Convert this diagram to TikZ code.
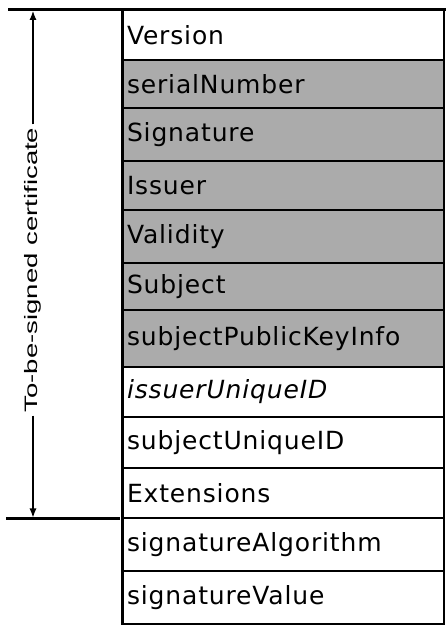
\documentclass[tikz,border=0pt]{standalone}
\usepackage{fontspec}
\newfontfamily\rowfont[LetterSpace=3.4]{DejaVu Sans}
\newfontfamily\lblfont{Liberation Sans}
\usetikzlibrary{arrows.meta}
\tikzset{
  rowbox/.style={draw=black, line width=1.6pt, outer sep=0pt, anchor=north west, minimum width=322pt,
     inner xsep=5pt, inner ysep=0pt, text width=312pt, align=left,
     font=\rowfont\fontsize{25}{25}\selectfont},
  shaded/.style={rowbox, fill=black!33},
  plain/.style={rowbox, fill=white},
  thick line/.style={line width=3pt},
  dimarrow/.style={line width=1.2pt, -{Latex[length=9pt,width=7pt]}},
}
\begin{document}
\begin{tikzpicture}[x=1pt,y=1pt]
\useasboundingbox (0,0) rectangle (446,627);
\node[plain,  minimum height=50.5pt] (r1)  at (122,617.5) {Version};
\node[shaded, minimum height=48pt]   (r2)  at (r1.south west) {serialNumber};
\node[shaded, minimum height=53pt]   (r3)  at (r2.south west) {Signature};
\node[shaded, minimum height=49pt]   (r4)  at (r3.south west) {Issuer};
\node[shaded, minimum height=53pt]   (r5)  at (r4.south west) {Validity};
\node[shaded, minimum height=47pt]   (r6)  at (r5.south west) {Subject};
\node[shaded, minimum height=57pt]   (r7)  at (r6.south west) {subjectPublicKeyInfo};
\node[plain,  minimum height=50pt]   (r8)  at (r7.south west) {\itshape issuerUniqueID};
\node[plain,  minimum height=51pt]   (r9)  at (r8.south west) {subjectUniqueID};
\node[plain,  minimum height=50pt]   (r10) at (r9.south west) {Extensions};
\node[plain,  minimum height=53pt]   (r11) at (r10.south west) {signatureAlgorithm};
\node[plain,  minimum height=53pt]   (r12) at (r11.south west) {signatureValue};
% thick left edge and top rule
\draw[thick line] (r1.north west) -- (r12.south west);
\coordinate (topL) at (8,617.5);
\coordinate (topR) at (446,617.5);
\draw[thick line] (topL) -- (topR);
\coordinate (botL) at (6,108);
\coordinate (botR) at (120,108);
\draw[thick line] (botL) -- (botR);
% dimension label and arrows
\node[rotate=90, inner sep=3pt, font=\lblfont\fontsize{18}{18}\selectfont] (lbl) at (33,357)
  {\scalebox{1.53}[1]{To-be-signed certificate}};
\coordinate (tipT) at (33,616);
\coordinate (tipB) at (33,109.5);
\draw[dimarrow] (lbl.east) -- (tipT);
\draw[dimarrow] (lbl.west) -- (tipB);
\end{tikzpicture}
\end{document}
